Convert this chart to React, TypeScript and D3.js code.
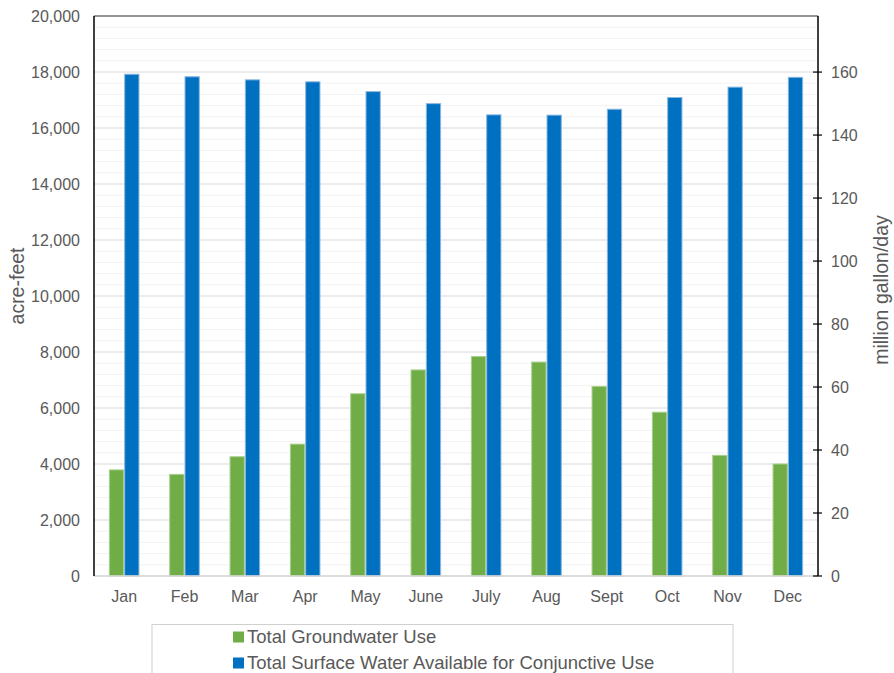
import React from "react";
import * as d3 from "d3";

const months = ["Jan", "Feb", "Mar", "Apr", "May", "June", "July", "Aug", "Sept", "Oct", "Nov", "Dec"];
const groundwater = [3790, 3630, 4260, 4710, 6510, 7360, 7840, 7640, 6770, 5850, 4310, 4000];
const surfaceWater = [17920, 17830, 17720, 17650, 17300, 16870, 16470, 16460, 16670, 17090, 17460, 17810];
const seriesNames = ["Total Groundwater Use", "Total Surface Water Available for Conjunctive Use"];
const seriesColors = ["#70AD47", "#0070C0"];
const seriesStrokes = ["#A9D18E", "#8DB8E2"];
const leftTicks = [0, 2000, 4000, 6000, 8000, 10000, 12000, 14000, 16000, 18000, 20000];
const rightTicks = [0, 20, 40, 60, 80, 100, 120, 140, 160];

const W = 894;
const H = 673;
const M = { left: 94, right: 818, top: 16, bottom: 576 };
const FONT = "'Liberation Sans', Arial, sans-serif";
const TXT = "#595959";

export default function App() {
  const x = d3.scaleBand<string>().domain(months).range([M.left, M.right]).padding(0);
  const groupW = 30.6;
  const xs = d3.scaleBand<number>().domain([0, 1]).range([0, groupW]).padding(0);
  const y = d3.scaleLinear().domain([0, 20000]).range([M.bottom, M.top]);
  const yR = d3.scaleLinear().domain([0, 177.8]).range([M.bottom, M.top]);
  const minor = d3.range(0, 20001, 400);
  const series = [groundwater, surfaceWater];
  const fmt = d3.format(",");

  return (
    <svg width={W} height={H} style={{ position: "absolute", left: 0, top: 0, background: "#fff" }} fontFamily={FONT}>
      <rect x={0} y={0} width={W} height={H} fill="#fff" />
      {minor.map((v) => (
        <line key={"m" + v} x1={M.left} x2={M.right} y1={y(v)} y2={y(v)}
          stroke={v % 2000 === 0 ? "#D9D9D9" : "#F2F2F2"} strokeWidth={1} />
      ))}
      {series.map((vals, si) =>
        vals.map((v, i) => {
          const cx = (x(months[i]) as number) + x.bandwidth() / 2 - groupW / 2 + (xs(si) as number);
          return (
            <rect key={si + "-" + i} x={cx + 0.5} y={y(v)} width={xs.bandwidth() - 1} height={M.bottom - y(v)}
              fill={seriesColors[si]} stroke={seriesStrokes[si]} strokeWidth={1} />
          );
        })
      )}
      <line x1={M.left} x2={M.right} y1={M.bottom} y2={M.bottom} stroke="#D9D9D9" strokeWidth={1.5} />
      <line x1={M.left} x2={M.right} y1={M.top} y2={M.top} stroke="#404040" strokeWidth={1.2} />
      <line x1={M.left} x2={M.left} y1={M.top} y2={M.bottom} stroke="#000" strokeWidth={1.5} />
      <line x1={M.right} x2={M.right} y1={M.top} y2={M.bottom} stroke="#000" strokeWidth={1.5} />
      {leftTicks.map((t) => (
        <text key={"l" + t} x={80} y={y(t)} dy="0.35em" textAnchor="end" fontSize={16} fill={TXT}>{fmt(t)}</text>
      ))}
      {rightTicks.map((t) => (
        <g key={"r" + t}>
          <line x1={M.right - 5} x2={M.right + 4} y1={yR(t)} y2={yR(t)} stroke="#000" strokeWidth={1.2} />
          <text x={831} y={yR(t)} dy="0.35em" textAnchor="start" fontSize={16} fill={TXT}>{t}</text>
        </g>
      ))}
      {months.map((m) => (
        <text key={m} x={(x(m) as number) + x.bandwidth() / 2} y={596} dy="0.35em" textAnchor="middle" fontSize={16} fill={TXT}>{m}</text>
      ))}
      <text transform={`translate(24,${(M.top + M.bottom) / 2 - 10}) rotate(-90)`} textAnchor="middle" fontSize={19.5} fill={TXT}>acre-feet</text>
      <text transform={`translate(888,${(M.top + M.bottom) / 2 - 6}) rotate(-90)`} textAnchor="middle" fontSize={19.5} fill={TXT}>million gallon/day</text>
      <rect x={152} y={624.5} width={581} height={70} fill="#fff" stroke="#D0D0D0" strokeWidth={1} />
      {seriesNames.map((n, i) => (
        <g key={n}>
          <rect x={233} y={631.5 + i * 26} width={11} height={11} fill={seriesColors[i]} />
          <text x={247} y={637 + i * 26} dy="0.35em" fontSize={18.5} fill={TXT}>{n}</text>
        </g>
      ))}
    </svg>
  );
}
